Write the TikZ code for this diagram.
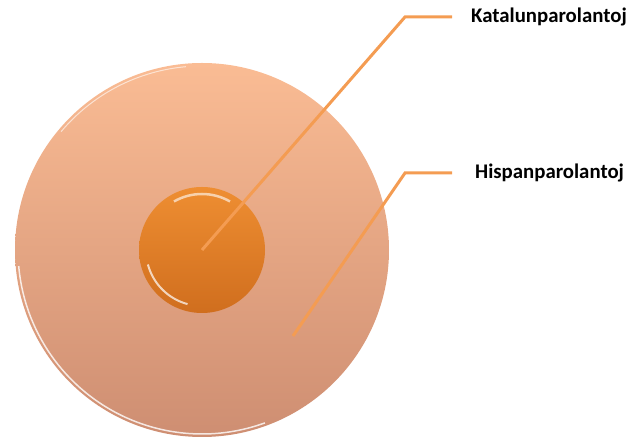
\documentclass[tikz,border=0pt]{standalone}
\usepackage{fontspec}
\setmainfont{Carlito}
\usetikzlibrary{positioning}
\definecolor{peachtop}{RGB}{250,188,148}
\definecolor{peachbot}{RGB}{206,142,114}
\definecolor{coretop}{RGB}{238,142,50}
\definecolor{corebot}{RGB}{208,110,30}
\definecolor{leadcol}{RGB}{244,156,82}
\begin{document}
\begin{tikzpicture}[
  x=1pt, y=1pt,
  outerdisc/.style={circle, minimum size=374pt, inner sep=0pt,
                    top color=peachtop, bottom color=peachbot},
  coredisc/.style={circle, minimum size=126pt, inner sep=0pt,
                   top color=coretop, bottom color=corebot},
  leader/.style={draw=leadcol, line width=3pt},
  tag/.style={anchor=west, inner sep=0pt, font=\fontsize{20.8}{24}\selectfont\bfseries}
]
  \useasboundingbox (0,0) rectangle (633,441);
  \node[outerdisc] (outer) at (202,191) {};
  \draw[white, line width=1.5pt, opacity=0.8] (outer.center) ++(185:184) arc (185:290:184);
  \draw[white, line width=1pt, opacity=0.6] (outer.center) ++(95:184) arc (95:140:184);
  \node[coredisc] (core) at (202,191) {};
  \draw[white, line width=2.5pt, opacity=0.6] (core.center) ++(60:56) arc (60:120:56);
  \draw[white, line width=2pt, opacity=0.7] (core.center) ++(195:56) arc (195:255:56);

  \node[tag] (kat) at (471,424) {Katalunparolantoj};
  \node[tag] (hisp) at (475,268) {Hispanparolantoj};

  \coordinate (katbend) at (405,424);
  \coordinate (katend) at (452,424);
  \coordinate (hispstart) at (293,105);
  \coordinate (hispbend) at (405,268);
  \coordinate (hispend) at (452,268);

  \draw[leader] (core.center) -- (katbend) -- (katend);
  \draw[leader] (hispstart) -- (hispbend) -- (hispend);
\end{tikzpicture}
\end{document}
